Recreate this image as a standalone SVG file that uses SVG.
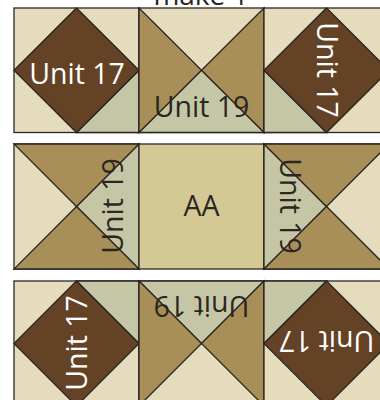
<svg xmlns="http://www.w3.org/2000/svg" width="380" height="400" viewBox="0 0 380 400">
<style>
.p{stroke:#2b2622;stroke-width:1.3;stroke-linejoin:miter}
.c{fill:#e5dcbd}.t{fill:#a88f58}.s{fill:#c5c6a5}.b{fill:#644226}.a{fill:#d4c995}
text{font-family:"Open Sans","Noto Sans",sans-serif;font-size:28.500px;text-anchor:middle;fill:#2b2622}
text.w{fill:#fff}
</style>
<g id="title"><text x="201" y="4.500" style="font-size:28px">make 1</text></g>
<g id="r1c1"><rect class="p c" x="14" y="8" width="125" height="124.500"/><path class="p s" d="M139 70.300V132.500H76.500Z"/><path class="p b" d="M76.500 8L139 70.300 76.500 132.500 14 70.300Z"/><text class="w" x="77" y="83.500">Unit 17</text></g>
<g id="r1c2"><rect class="p c" x="139" y="8" width="125" height="124.500"/><path class="p s" d="M201.500 70.300L264 132.500H139Z"/><path class="p t" d="M139 8L201.500 70.300 139 132.500Z"/><path class="p t" d="M264 8L201.500 70.300 264 132.500Z"/><text x="201.500" y="116.500">Unit 19</text></g>
<g id="r1c3"><rect class="p c" x="264" y="8" width="125" height="124.500"/><path class="p s" d="M264 70.300V132.500H326.500Z"/><path class="p b" d="M326.500 8L389 70.300 326.500 132.500 264 70.300Z"/><text class="w" transform="translate(316.500 70) rotate(90)">Unit 17</text></g>
<g id="r2c1"><rect class="p c" x="14" y="144" width="125" height="125"/><path class="p s" d="M139 144V269L76.500 206.500Z"/><path class="p t" d="M14 144H139L76.500 206.500Z"/><path class="p t" d="M14 269H139L76.500 206.500Z"/><text transform="translate(123 206) rotate(-90)">Unit 19</text></g>
<g id="r2c2"><rect class="p a" x="139" y="144" width="125" height="125"/><text x="201.500" y="216">AA</text></g>
<g id="r2c3"><rect class="p c" x="264" y="144" width="125" height="125"/><path class="p s" d="M264 144V269L326.500 206.500Z"/><path class="p t" d="M264 144H389L326.500 206.500Z"/><path class="p t" d="M264 269H389L326.500 206.500Z"/><text transform="translate(280 206) rotate(90)">Unit 19</text></g>
<g id="r3c1"><rect class="p c" x="14" y="281" width="125" height="125"/><path class="p s" d="M139 343.500V281H76.500Z"/><path class="p b" d="M76.500 281L139 343.500 76.500 406 14 343.500Z"/><text class="w" transform="translate(87 343) rotate(-90)">Unit 17</text></g>
<g id="r3c2"><rect class="p c" x="139" y="281" width="125" height="125"/><path class="p s" d="M139 281H264L201.500 343.500Z"/><path class="p t" d="M139 281L201.500 343.500 139 406Z"/><path class="p t" d="M264 281L201.500 343.500 264 406Z"/><text transform="translate(201.500 296) rotate(180)">Unit 19</text></g>
<g id="r3c3"><rect class="p c" x="264" y="281" width="125" height="125"/><path class="p s" d="M264 343.500V281H326.500Z"/><path class="p b" d="M326.500 281L389 343.500 326.500 406 264 343.500Z"/><text class="w" transform="translate(326.500 331) rotate(180)">Unit 17</text></g>
</svg>
